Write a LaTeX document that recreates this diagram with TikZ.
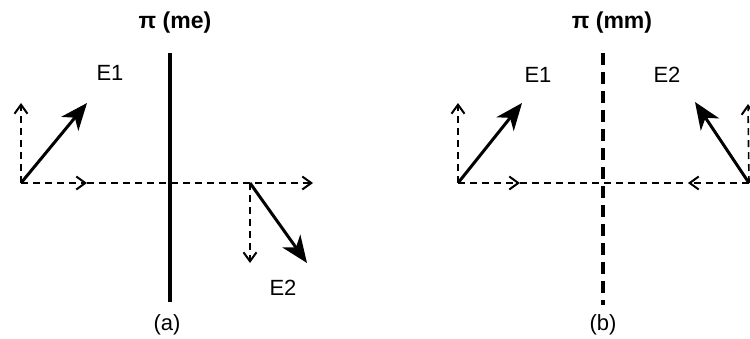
\documentclass[tikz,border=0pt]{standalone}
\usepackage{fontspec}
\setmainfont{Liberation Sans}
\usetikzlibrary{arrows.meta}
\begin{document}
\begin{tikzpicture}[x=1pt,y=-1pt,
  field/.style={line width=3pt,-{Stealth[length=27pt,width=22pt,inset=8pt]}},
  comp/.style={line width=1.6pt,dash pattern=on 7pt off 5pt,-{Straight Barb[length=9pt,width=13pt,line width=2pt]}},
  dashline/.style={line width=1.6pt,dash pattern=on 7pt off 5pt},
  mirror/.style={line width=3.6pt},
  lbl/.style={font=\fontsize{22}{22}\selectfont,inner sep=0pt},
  ttl/.style={font=\fontsize{23}{23}\selectfont\bfseries,inner sep=0pt}]
\useasboundingbox (0,0) rectangle (750,338);
% (a) metallic mirror
\coordinate (Oa1) at (21,183);
\coordinate (Ha1) at (87,183);
\coordinate (Ea) at (313,183);
\coordinate (Oa2) at (250,183);
\draw[mirror] (170,53) coordinate (Ma1) -- (170,302) coordinate (Ma2);
\draw[comp] (Oa1) -- (Ha1);
\draw[comp] (Ha1) -- (Ea);
\draw[comp] (Oa1) -- (21,103);
\draw[comp] (Oa2) -- (250,263);
\draw[field] (Oa1) -- (87,103) coordinate (Ta1);
\draw[field] (Oa2) -- (307,263) coordinate (Ta2);
\node[ttl] (tA) at (175,23) {π (me)};
\node[lbl] (e1a) at (110,73) {E1};
\node[lbl] (e2a) at (283,288) {E2};
\node[lbl] (capA) at (167,325) {(a)};
% (b) magnetic mirror
\coordinate (Ob1) at (458,183);
\coordinate (Hb1) at (520,183);
\coordinate (Ob2) at (749,183);
\coordinate (Hb2) at (688,183);
\draw[mirror,dash pattern=on 12pt off 7pt] (603,53) coordinate (Mb1) -- (603,305) coordinate (Mb2);
\draw[comp] (Ob1) -- (Hb1);
\draw[dashline] (Hb1) -- (Hb2);
\draw[comp] (Ob2) -- (Hb2);
\draw[comp] (Ob1) -- (458,103);
\draw[comp] (Ob2) -- (748,104);
\draw[field] (Ob1) -- (522,103) coordinate (Tb1);
\draw[field] (Ob2) -- (695,102) coordinate (Tb2);
\node[ttl] (tB) at (612,23) {π (mm)};
\node[lbl] (e1b) at (538,75) {E1};
\node[lbl] (e2b) at (667,75) {E2};
\node[lbl] (capB) at (603,325) {(b)};
\end{tikzpicture}
\end{document}
